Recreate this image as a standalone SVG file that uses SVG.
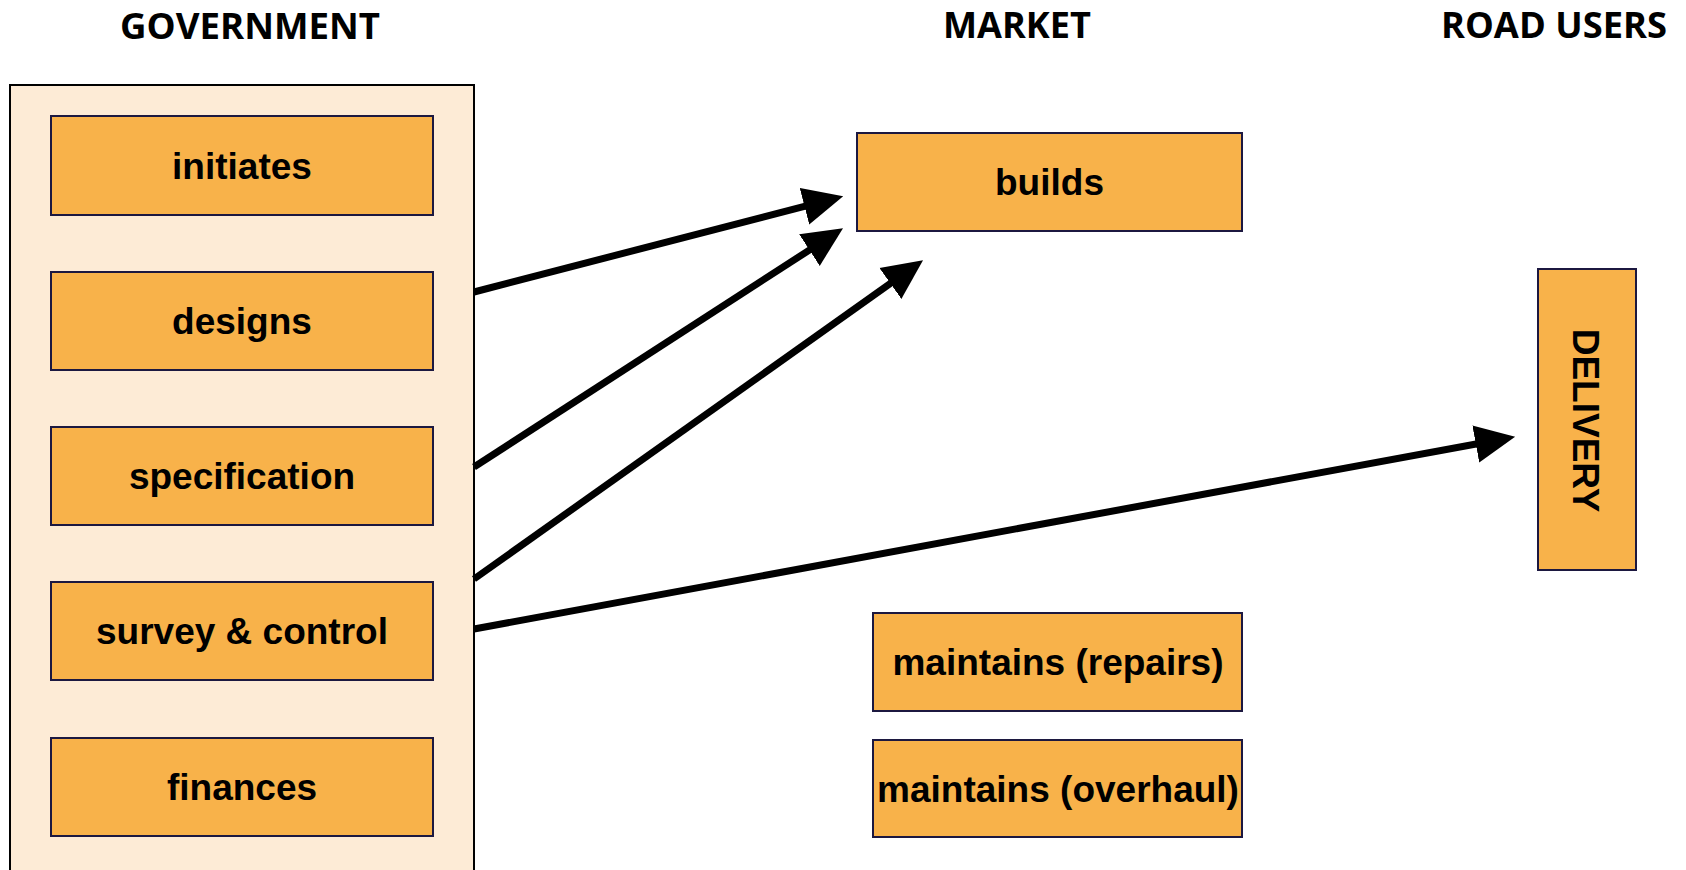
<svg xmlns="http://www.w3.org/2000/svg" width="1686" height="870" viewBox="0 0 1686 870">
<defs>
<style>
.title{font-family:"Open Sans","Liberation Sans",sans-serif;font-weight:bold;font-size:35px;fill:#000;text-anchor:middle}
.box{fill:#F8B24A;stroke:#1c1840;stroke-width:2}
.lbl{font-family:"Liberation Sans",Arial,sans-serif;font-weight:bold;font-size:37px;fill:#000;text-anchor:middle}
.conn{stroke:#000;stroke-width:7;fill:none;marker-end:url(#ah)}
</style>
<marker id="ah" markerUnits="userSpaceOnUse" markerWidth="40" markerHeight="40" viewBox="0 0 37 35" refX="22" refY="17.5" orient="auto">
<path d="M0,0 L37,17.5 L0,35 Z" fill="#000"/>
</marker>
</defs>
<rect width="1686" height="870" fill="#fff"/>
<text class="title" x="250" y="39" textLength="260" lengthAdjust="spacingAndGlyphs">GOVERNMENT</text>
<text class="title" x="1017" y="38" textLength="148" lengthAdjust="spacingAndGlyphs">MARKET</text>
<text class="title" x="1554" y="38" textLength="226" lengthAdjust="spacingAndGlyphs">ROAD USERS</text>
<g id="government">
<rect x="10" y="85" width="464" height="800" fill="#FDEBD6" stroke="#000" stroke-width="2"/>
</g>
<g id="initiates"><rect class="box" x="51" y="116" width="382" height="99"/><text class="lbl" x="242" y="178.5">initiates</text></g>
<g id="designs"><rect class="box" x="51" y="272" width="382" height="98"/><text class="lbl" x="242" y="334">designs</text></g>
<g id="specification"><rect class="box" x="51" y="427" width="382" height="98"/><text class="lbl" x="242" y="489">specification</text></g>
<g id="survey"><rect class="box" x="51" y="582" width="382" height="98"/><text class="lbl" x="242" y="644">survey &amp; control</text></g>
<g id="finances"><rect class="box" x="51" y="738" width="382" height="98"/><text class="lbl" x="242" y="800">finances</text></g>
<g id="builds"><rect class="box" x="857" y="133" width="385" height="98"/><text class="lbl" x="1049.5" y="195">builds</text></g>
<g id="repairs"><rect class="box" x="873" y="613" width="369" height="98"/><text class="lbl" x="1058" y="675">maintains (repairs)</text></g>
<g id="overhaul"><rect class="box" x="873" y="740" width="369" height="97"/><text class="lbl" x="1058" y="802">maintains (overhaul)</text></g>
<g id="delivery"><rect class="box" x="1538" y="269" width="98" height="301"/><text class="lbl" transform="translate(1573,420.5) rotate(90)" x="0" y="0">DELIVERY</text></g>
<g id="connectors">
<line class="conn" x1="474" y1="292" x2="827.5" y2="200.3"/>
<line class="conn" x1="474" y1="467" x2="829.4" y2="237.1"/>
<line class="conn" x1="474" y1="579" x2="909.8" y2="269.7"/>
<line class="conn" x1="474" y1="629" x2="1499.2" y2="439.7"/>
</g>
</svg>
